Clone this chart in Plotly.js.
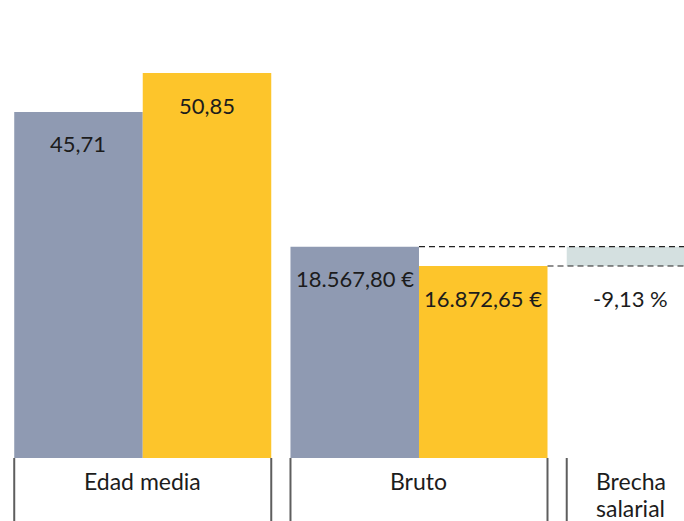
<!DOCTYPE html>
<html>
<head>
<meta charset="utf-8">
<script src="https://cdn.plot.ly/plotly-3.0.1.min.js"></script>
<style>html,body{margin:0;padding:0;background:#fff;}#chart{width:684px;height:521px;}</style>
</head>
<body>
<div id="chart"></div>
<script>
// ---- data ----
const categories = ["Edad media", "Bruto", "Brecha salarial"];
const categoryLabelLines = [["Edad media"], ["Bruto"], ["Brecha", "salarial"]];
const edadValues = [45.71, 50.85];
const edadLabels = ["45,71", "50,85"];
const brutoValues = [18567.80, 16872.65];
const brutoLabels = ["18.567,80 €", "16.872,65 €"];
const brechaLabel = "-9,13 %";

// ---- style ----
const GREY = "#8f9ab2", YELLOW = "#fdc52b", TEAL = "#d4e0e0";
const FONT = "Lato, 'Open Sans', sans-serif";
const TXT = "#1c1c1c";
const W = 0.4652;           // bar width in category units
const XR = [-0.5167, 1.9593];

const traces = [
  {type: "bar", x: [categories[0]], y: [edadValues[0]], width: W, offset: -W, marker: {color: GREY}, xaxis: "x", yaxis: "y", hoverinfo: "none"},
  {type: "bar", x: [categories[0]], y: [edadValues[1]], width: W, offset: 0, marker: {color: YELLOW}, xaxis: "x", yaxis: "y", hoverinfo: "none"},
  {type: "bar", x: [categories[1]], y: [brutoValues[0]], width: W, offset: -W, marker: {color: GREY}, xaxis: "x", yaxis: "y2", hoverinfo: "none"},
  {type: "bar", x: [categories[1]], y: [brutoValues[1]], width: W, offset: 0, marker: {color: YELLOW}, xaxis: "x", yaxis: "y2", hoverinfo: "none"},
  {type: "bar", x: [categories[2]], base: [brutoValues[1]], y: [brutoValues[0] - brutoValues[1]], width: W, offset: -W, marker: {color: TEAL}, xaxis: "x", yaxis: "y2", hoverinfo: "none"}
];

const ann = [];
const valFont = {family: FONT, size: 22, color: TXT};
const SHIFT = -32;
edadValues.forEach((v, k) => ann.push({x: (k === 0 ? -W / 2 : W / 2), y: v, xref: "x", yref: "y", text: edadLabels[k], showarrow: false, yanchor: "middle", xanchor: "center", yshift: SHIFT, font: valFont}));
brutoValues.forEach((v, k) => ann.push({x: 1 + (k === 0 ? -W / 2 : W / 2), y: v, xref: "x", yref: "y2", text: brutoLabels[k], showarrow: false, yanchor: "middle", xanchor: "center", yshift: SHIFT, font: valFont}));
ann.push({x: 2 - W / 2, y: brutoValues[1], xref: "x", yref: "y2", text: brechaLabel, showarrow: false, yanchor: "middle", xanchor: "center", yshift: SHIFT, font: valFont});
// category labels (one annotation per line, 27px line spacing)
[0, 1, 2 - W / 2].forEach((cx, k) => categoryLabelLines[k].forEach((line, j) => ann.push({
  x: cx, y: 0, xref: "x", yref: "paper", text: line, showarrow: false, yanchor: "top", xanchor: "center",
  yshift: -7 - 27 * j, font: {family: FONT, size: 23, color: TXT}
})));

const shapes = [];
// dashed reference lines
shapes.push({type: "line", xref: "x", yref: "y2", x0: 1, x1: XR[1], y0: brutoValues[0], y1: brutoValues[0], line: {color: "#222", width: 1.2, dash: "6px,4px"}, layer: "above"});
shapes.push({type: "line", xref: "x", yref: "y2", x0: 1 + W, x1: XR[1], y0: brutoValues[1], y1: brutoValues[1], line: {color: "#222", width: 1.2, dash: "6px,4px"}, layer: "above"});
// separator lines under each group
[0, 1, 2].forEach(i => {
  [-W, W].forEach(d => {
    const x = i + d;
    if (x < XR[1]) shapes.push({type: "line", xref: "x", yref: "paper", x0: x, x1: x, y0: 0, y1: -63 / 458, line: {color: "#5e5e5e", width: 2}, layer: "above"});
  });
});

const layout = {
  width: 684, height: 521,
  margin: {l: 0, r: 0, t: 0, b: 63, pad: 0},
  paper_bgcolor: "#fff", plot_bgcolor: "#fff",
  showlegend: false,
  barmode: "overlay",
  xaxis: {type: "category", categoryorder: "array", categoryarray: categories, range: XR, showticklabels: false, showgrid: false, zeroline: false, showline: false, ticks: ""},
  yaxis: {range: [0, 60.5], visible: false, showgrid: false, zeroline: false},
  yaxis2: {range: [0, 40250], overlaying: "y", visible: false, showgrid: false, zeroline: false},
  annotations: ann,
  shapes: shapes
};

Plotly.newPlot("chart", traces, layout, {staticPlot: true, displayModeBar: false});
</script>
</body>
</html>
